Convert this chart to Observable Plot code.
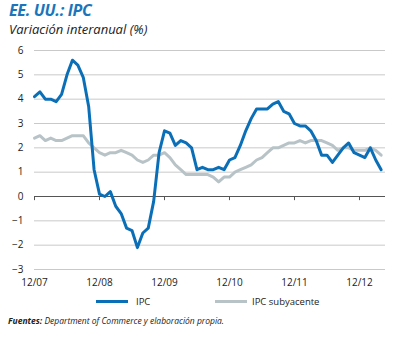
<!DOCTYPE html>
<html><head><meta charset="utf-8">
<script src="https://cdn.jsdelivr.net/npm/d3@7"></script>
<script src="https://cdn.jsdelivr.net/npm/@observablehq/plot@0.6"></script>
<style>
body{margin:0;background:#fff;font-family:"Open Sans",sans-serif;}
#wrap{position:relative;width:407px;height:338px;overflow:hidden;background:#fff;}
#title{position:absolute;left:9px;top:-1px;font-size:16px;font-weight:bold;font-style:italic;color:#1a75bb;letter-spacing:-0.3px;}
#subtitle{position:absolute;left:9px;top:20px;font-size:13px;font-style:italic;color:#222;}
#chart{position:absolute;left:0;top:38px;}
.leg{position:absolute;top:295px;font-size:9.5px;color:#222;display:flex;align-items:center;}
.sw{display:inline-block;width:32px;height:3px;margin-right:8px;}
#foot{position:absolute;left:8px;top:315px;font-size:8.5px;font-style:italic;color:#222;}
</style></head>
<body>
<div id="wrap">
  <div id="title">EE. UU.: IPC</div>
  <div id="subtitle">Variación interanual (%)</div>
  <div id="chart"></div>
  <div class="leg" style="left:96px"><span class="sw" style="background:#0b6fb8"></span>IPC</div>
  <div class="leg" style="left:215px"><span class="sw" style="background:#b8c3c8;margin-right:5px"></span>IPC subyacente</div>
  <div id="foot"><b>Fuentes:</b> Department of Commerce y elaboración propia.</div>
</div>
<script>
const months = ["2007-12",
 "2008-01","2008-02","2008-03","2008-04","2008-05","2008-06","2008-07","2008-08","2008-09","2008-10","2008-11","2008-12",
 "2009-01","2009-02","2009-03","2009-04","2009-05","2009-06","2009-07","2009-08","2009-09","2009-10","2009-11","2009-12",
 "2010-01","2010-02","2010-03","2010-04","2010-05","2010-06","2010-07","2010-08","2010-09","2010-10","2010-11","2010-12",
 "2011-01","2011-02","2011-03","2011-04","2011-05","2011-06","2011-07","2011-08","2011-09","2011-10","2011-11","2011-12",
 "2012-01","2012-02","2012-03","2012-04","2012-05","2012-06","2012-07","2012-08","2012-09","2012-10","2012-11","2012-12",
 "2013-01","2013-02","2013-03","2013-04"];
const ipc = [4.1,
 4.3,4.0,4.0,3.9,4.2,5.0,5.6,5.4,4.9,3.7,1.1,0.1,
 0.0,0.2,-0.4,-0.7,-1.3,-1.4,-2.1,-1.5,-1.3,-0.2,1.8,2.7,
 2.6,2.1,2.3,2.2,2.0,1.1,1.2,1.1,1.1,1.2,1.1,1.5,
 1.6,2.1,2.7,3.2,3.6,3.6,3.6,3.8,3.9,3.5,3.4,3.0,
 2.9,2.9,2.7,2.3,1.7,1.7,1.4,1.7,2.0,2.2,1.8,1.7,
 1.6,2.0,1.5,1.1];
const subyacente = [2.4,
 2.5,2.3,2.4,2.3,2.3,2.4,2.5,2.5,2.5,2.2,2.0,1.8,
 1.7,1.8,1.8,1.9,1.8,1.7,1.5,1.4,1.5,1.7,1.7,1.8,
 1.6,1.3,1.1,0.9,0.9,0.9,0.9,0.9,0.8,0.6,0.8,0.8,
 1.0,1.1,1.2,1.3,1.5,1.6,1.8,2.0,2.0,2.1,2.2,2.2,
 2.3,2.2,2.3,2.3,2.3,2.2,2.1,1.9,2.0,2.0,1.9,1.9,
 1.9,2.0,1.9,1.7];
const tickLabels = ["12/07","12/08","12/09","12/10","12/11","12/12"];
const yTicks = [-3,-2,-1,0,1,2,3,4,5,6];

const rows = months.map((m,i)=>({i, m, ipc: ipc[i], sub: subyacente[i]}));
const xTicks = months.map((m,i)=>({m,i})).filter(d=>d.m.endsWith("-12")).map(d=>d.i);

const font = '"Open Sans",sans-serif';
const chart = Plot.plot({
  width: 407, height: 260,
  marginTop: 12, marginBottom: 29, marginLeft: 34, marginRight: 22,
  style: {fontFamily: font, fontSize: "10px", color: "#222", background: "#fff"},
  x: {type: "linear", domain: [0, 64.8], ticks: xTicks, tickFormat: i => tickLabels[xTicks.indexOf(i)], tickSize: 0, tickPadding: 9, label: null},
  y: {domain: [-3, 6], ticks: yTicks, tickSize: 0, tickPadding: 11, label: null},
  marks: [
    Plot.ruleY(yTicks.filter(v=>v!==0), {stroke: "#c9c9c9", strokeWidth: 1}),
    Plot.ruleY([0], {stroke: "#555", strokeWidth: 1}),
    Plot.ruleX(xTicks, {y1: 0, y2: -0.17, stroke: "#555", strokeWidth: 1}),
    Plot.lineY(rows, {x: "i", y: "sub", stroke: "#b8c3c8", strokeWidth: 3, curve: "linear"}),
    Plot.lineY(rows, {x: "i", y: "ipc", stroke: "#0b6fb8", strokeWidth: 3, curve: "linear"})
  ]
});
document.getElementById("chart").appendChild(chart);
</script>
</body></html>
